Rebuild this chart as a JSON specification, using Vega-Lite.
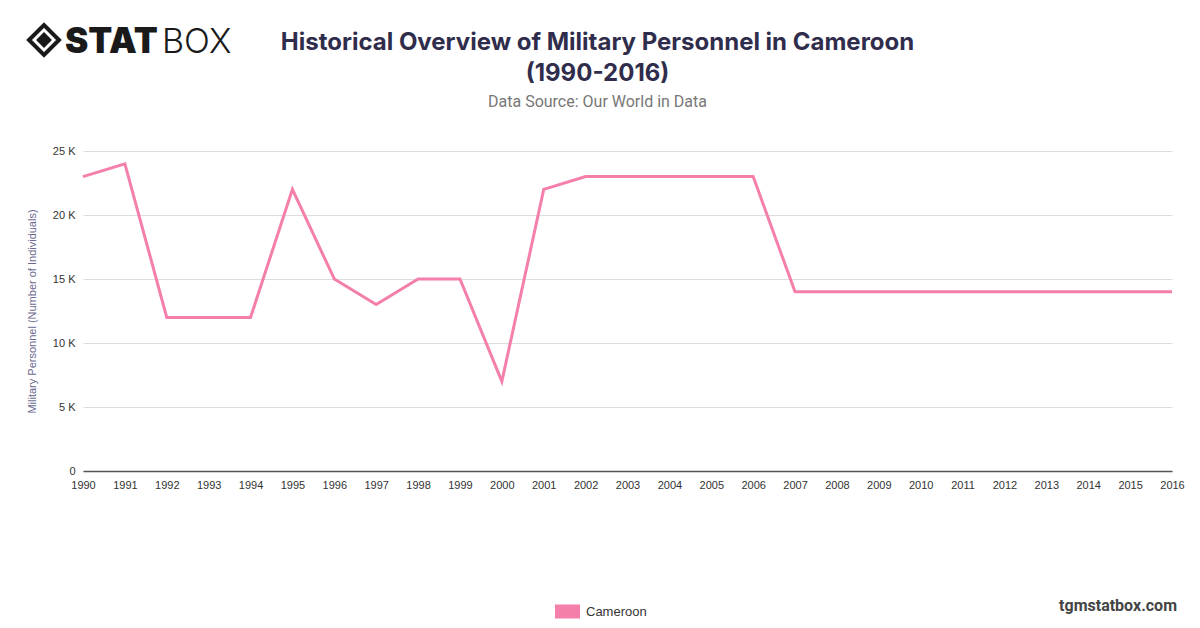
{
  "$schema": "https://vega.github.io/schema/vega-lite/v6.json",
  "autosize": {"type": "none"},
  "width": 1089,
  "height": 320,
  "padding": {"left": 83, "top": 151, "right": 28, "bottom": 157},
  "background": "white",
  "config": {"view": {"stroke": null}, "font": "Roboto"},
  "title": {
    "text": ["Historical Overview of Military Personnel in Cameroon", "(1990-2016)"],
    "subtitle": "Data Source: Our World in Data",
    "anchor": "middle",
    "dx": -30,
    "offset": -93,
    "font": "Inter",
    "fontSize": 24,
    "fontWeight": "bold",
    "color": "#302d4c",
    "lineHeight": 31,
    "subtitleFont": "Roboto",
    "subtitleFontSize": 16,
    "subtitleColor": "#777777",
    "subtitlePadding": 8
  },
  "data": {
    "values": [
      {"year": 1990, "value": 23000, "country": "Cameroon"},
      {"year": 1991, "value": 24000, "country": "Cameroon"},
      {"year": 1992, "value": 12000, "country": "Cameroon"},
      {"year": 1993, "value": 12000, "country": "Cameroon"},
      {"year": 1994, "value": 12000, "country": "Cameroon"},
      {"year": 1995, "value": 22000, "country": "Cameroon"},
      {"year": 1996, "value": 15000, "country": "Cameroon"},
      {"year": 1997, "value": 13000, "country": "Cameroon"},
      {"year": 1998, "value": 15000, "country": "Cameroon"},
      {"year": 1999, "value": 15000, "country": "Cameroon"},
      {"year": 2000, "value": 7000, "country": "Cameroon"},
      {"year": 2001, "value": 22000, "country": "Cameroon"},
      {"year": 2002, "value": 23000, "country": "Cameroon"},
      {"year": 2003, "value": 23000, "country": "Cameroon"},
      {"year": 2004, "value": 23000, "country": "Cameroon"},
      {"year": 2005, "value": 23000, "country": "Cameroon"},
      {"year": 2006, "value": 23000, "country": "Cameroon"},
      {"year": 2007, "value": 14000, "country": "Cameroon"},
      {"year": 2008, "value": 14000, "country": "Cameroon"},
      {"year": 2009, "value": 14000, "country": "Cameroon"},
      {"year": 2010, "value": 14000, "country": "Cameroon"},
      {"year": 2011, "value": 14000, "country": "Cameroon"},
      {"year": 2012, "value": 14000, "country": "Cameroon"},
      {"year": 2013, "value": 14000, "country": "Cameroon"},
      {"year": 2014, "value": 14000, "country": "Cameroon"},
      {"year": 2015, "value": 14000, "country": "Cameroon"},
      {"year": 2016, "value": 14000, "country": "Cameroon"}
    ]
  },
  "layer": [
    {
      "mark": {"type": "line", "strokeWidth": 3, "interpolate": "linear"},
      "encoding": {
        "x": {
          "field": "year",
          "type": "quantitative",
          "scale": {"domain": [1990, 2016], "nice": false, "zero": false},
          "axis": {
            "title": null,
            "values": [1990,1991,1992,1993,1994,1995,1996,1997,1998,1999,2000,2001,2002,2003,2004,2005,2006,2007,2008,2009,2010,2011,2012,2013,2014,2015,2016],
            "format": "d",
            "grid": false,
            "ticks": false,
            "domainColor": "#555555",
            "domainWidth": 1.5,
            "labelFont": "Liberation Sans",
            "labelColor": "#333333",
            "labelFontSize": 11,
            "labelPadding": 8,
            "labelOverlap": false,
            "labelFlush": false
          }
        },
        "y": {
          "field": "value",
          "type": "quantitative",
          "scale": {"domain": [0, 25000], "nice": false},
          "axis": {
            "title": "Military Personnel (Number of Individuals)",
            "titleFont": "Liberation Sans",
            "titleColor": "#6b6990",
            "titleFontSize": 11,
            "titleFontWeight": "normal",
            "titlePadding": 15,
            "values": [0, 5000, 10000, 15000, 20000, 25000],
            "labelExpr": "datum.value == 0 ? '0' : (datum.value / 1000) + ' K'",
            "labelFont": "Liberation Sans",
            "labelColor": "#333333",
            "labelFontSize": 11,
            "labelPadding": 8,
            "ticks": false,
            "domain": false,
            "grid": true,
            "gridColor": "#dddddd",
            "gridWidth": 1
          }
        },
        "color": {
          "field": "country",
          "type": "nominal",
          "scale": {"range": ["#F47FAB"]},
          "legend": {
            "title": null,
            "orient": "none",
            "legendX": 472,
            "legendY": 448,
            "symbolType": "M-1,-0.56H1V0.56H-1Z",
            "symbolSize": 625,
            "symbolStrokeWidth": 0,
            "symbolFillColor": "#F47FAB",
            "labelFont": "Liberation Sans",
            "labelFontSize": 13,
            "labelColor": "#333333",
            "labelOffset": 6
          }
        }
      }
    },
    {
      "data": {"values": [{}]},
      "mark": {"type": "text", "text": "STAT", "font": "Inter", "fontWeight": 900, "fontSize": 35, "align": "left", "baseline": "alphabetic", "color": "#1a1a1a"},
      "encoding": {"x": {"value": -18}, "y": {"value": -98}}
    },
    {
      "data": {"values": [{}]},
      "mark": {"type": "text", "text": "BOX", "font": "Inter", "fontWeight": 300, "fontSize": 34, "align": "left", "baseline": "alphabetic", "color": "#1a1a1a"},
      "encoding": {"x": {"value": 79}, "y": {"value": -98}}
    },
    {
      "data": {"values": [{}]},
      "mark": {"type": "point", "shape": "diamond", "filled": false, "size": 900, "strokeWidth": 4, "color": "#1a1a1a", "opacity": 1},
      "encoding": {"x": {"value": -39}, "y": {"value": -111}}
    },
    {
      "data": {"values": [{}]},
      "mark": {"type": "point", "shape": "diamond", "filled": true, "size": 250, "opacity": 1, "color": "#1a1a1a"},
      "encoding": {"x": {"value": -39}, "y": {"value": -111}}
    },
    {
      "data": {"values": [{}]},
      "mark": {"type": "text", "text": "tgmstatbox.com", "font": "Roboto", "fontWeight": "bold", "fontSize": 16, "align": "right", "baseline": "alphabetic", "color": "#444444"},
      "encoding": {"x": {"value": 1094}, "y": {"value": 460}}
    }
  ]
}
